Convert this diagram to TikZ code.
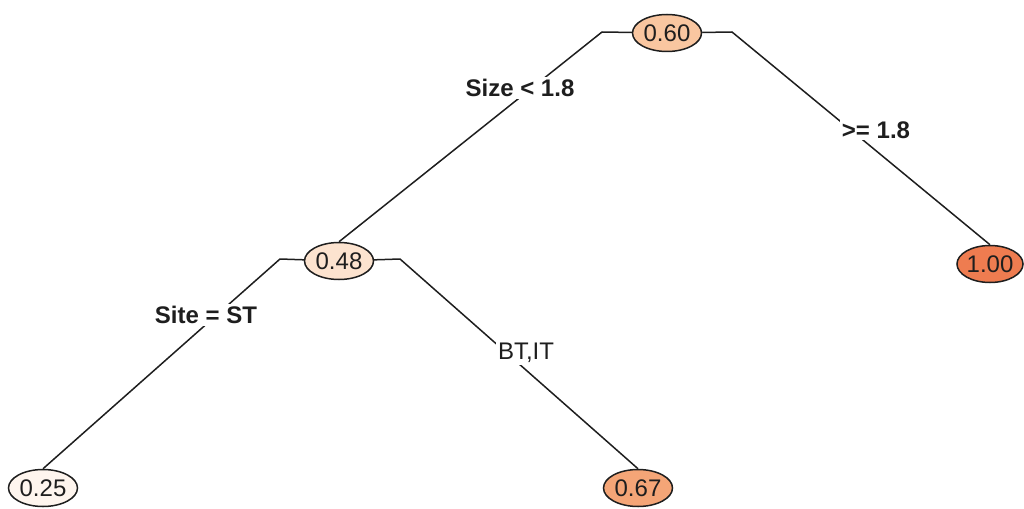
\documentclass[tikz,border=0pt]{standalone}
\usepackage{fontspec}
\setmainfont{Liberation Sans}
\usetikzlibrary{shapes.geometric,backgrounds}

\definecolor{leafA}{HTML}{FEF5EE}
\definecolor{leafB}{HTML}{FCE3CF}
\definecolor{leafC}{HTML}{F9C6A0}
\definecolor{leafD}{HTML}{F4A577}
\definecolor{leafE}{HTML}{EE7C50}
\definecolor{ink}{HTML}{1E1E1E}

\tikzset{
  treenode/.style={ellipse, draw=ink, line width=1.5pt, inner sep=0pt,
    minimum width=69pt, minimum height=37pt, text=ink,
    font=\fontsize{24}{27}\selectfont},
  splitlabel/.style={fill=white, inner sep=2pt, text=ink,
    font=\fontsize{24}{28}\selectfont\bfseries},
  plainlabel/.style={fill=white, inner sep=2pt, text=ink,
    font=\fontsize{24}{28}\selectfont},
  branch/.style={draw=ink, line width=1.5pt, line join=round}
}

\begin{document}
\begin{tikzpicture}[x=1pt, y=-1pt]
\useasboundingbox (0,0) rectangle (1024,508);

% tree nodes
\node[treenode, fill=leafC] (root) at (667,33) {0.60};
\node[treenode, fill=leafB] (mid)  at (339,261) {0.48};
\node[treenode, fill=leafE, minimum width=64pt] (big) at (990,264) {1.00};
\node[treenode, fill=leafA] (lo)   at (43,488) {0.25};
\node[treenode, fill=leafD] (hi)   at (638,488) {0.67};

% bar ends of each split
\coordinate (rootL) at (602,32);
\coordinate (rootR) at (732,32);
\coordinate (midL)  at (280,259);
\coordinate (midR)  at (400,259);

% branches behind the nodes
\begin{scope}[on background layer]
  \draw[branch] (root) -- (rootL) -- (mid.north);
  \draw[branch] (root) -- (rootR) -- (big.north);
  \draw[branch] (mid) -- (midL) -- (lo.north);
  \draw[branch] (mid) -- (midR) -- (hi.north);
\end{scope}

% split labels
\node[splitlabel] (s1) at (520,88)  {Size < 1.8};
\node[splitlabel] (s2) at (876,130) {>= 1.8};
\node[splitlabel] (s3) at (206,315) {Site = ST};
\node[plainlabel] (s4) at (526,353) {BT,IT};
\end{tikzpicture}
\end{document}
